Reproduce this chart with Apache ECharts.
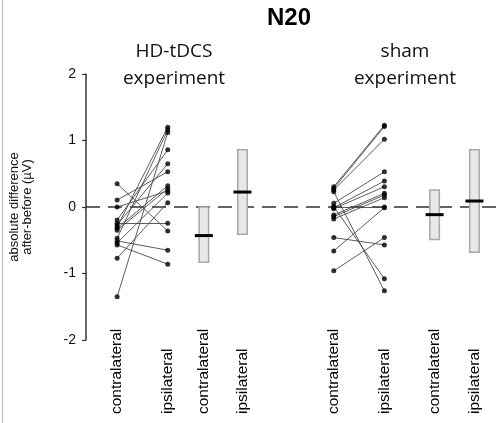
<!DOCTYPE html>
<html><head><meta charset="utf-8">
<script src="https://cdn.jsdelivr.net/npm/echarts@6/dist/echarts.min.js"></script>
<style>html,body{margin:0;padding:0;background:#fff}#c{width:501px;height:423px}</style>
</head><body><div id="c"></div>
<script>
// category positions along the x axis and their labels
const catPos = [0.75, 1.97, 2.84, 3.77, 5.97, 7.19, 8.4, 9.36];
const catLabels = ['contralateral', 'ipsilateral', 'contralateral', 'ipsilateral',
                   'contralateral', 'ipsilateral', 'contralateral', 'ipsilateral'];
const yTicks = [-2, -1, 0, 1, 2];

// individual subjects: HD-tDCS experiment (contralateral -> ipsilateral)
const hdContra = [0.35, 0.105, 0.0, -0.195, -0.245, -0.27, -0.30, -0.32, -0.35, -0.47, -0.51, -0.54, -0.57, -0.77, -1.35];
const hdIpsi   = [-0.36, 0.53, 0.24, 0.86, -0.245, 0.65, 1.20, 0.32, 0.275, 1.16, -0.65, 0.21, -0.86, 0.065, 1.12];

// individual subjects: sham experiment
const shamContra = [0.305, 0.28, 0.255, 0.23, 0.055, 0.005, 0.0, -0.01, -0.025, -0.12, -0.145, -0.18, -0.46, -0.66, -0.96];
const shamIpsi   = [1.23, 1.21, 1.02, -1.26, 0.53, -1.08, 0.0, 0.39, 0.305, 0.205, 0.18, 0.14, -0.57, -0.01, -0.46];

// summary boxes (range) with mean bar
const boxLow  = [-0.83, -0.41, -0.49, -0.68];
const boxHigh = [0.0, 0.86, 0.255, 0.86];
const boxMean = [-0.43, 0.225, -0.115, 0.09];

const boxCats = [2, 3, 6, 7];
const boxData = boxCats.map((c, i) => [catPos[c], boxLow[i], boxHigh[i], boxMean[i]]);

const pairLines = [];
const points = [];
function addPairs(contra, ipsi, cA, cB) {
  contra.forEach((v, i) => {
    pairLines.push({ coords: [[catPos[cA], v], [catPos[cB], ipsi[i]]] });
    points.push([catPos[cA], v]);
    points.push([catPos[cB], ipsi[i]]);
  });
}
addPairs(hdContra, hdIpsi, 0, 1);
addPairs(shamContra, shamIpsi, 4, 5);

const chart = echarts.init(document.getElementById('c'), null, { renderer: 'canvas' });
const font = 'Liberation Sans, Arial, sans-serif';

chart.setOption({
  animation: false,
  backgroundColor: '#fff',
  grid: { left: 79, right: 0, top: 74, bottom: 83 },
  xAxis: {
    type: 'value', min: 0, max: 10,
    axisLine: { show: false }, axisTick: { show: false }, splitLine: { show: false },
    axisLabel: {
      customValues: catPos,
      formatter: function (v) {
        const idx = catPos.findIndex(p => Math.abs(p - v) < 1e-6);
        return idx >= 0 ? catLabels[idx] : '';
      },
      rotate: 90, align: 'left', verticalAlign: 'middle', margin: 74,
      fontSize: 15.5, fontFamily: font, color: '#000'
    }
  },
  yAxis: {
    type: 'value', min: yTicks[0], max: yTicks[yTicks.length - 1], interval: 1,
    axisLine: { show: true, lineStyle: { color: '#333', width: 1.5 } },
    axisTick: { show: true, length: 4, lineStyle: { color: '#333', width: 1.2 } },
    axisLabel: { fontSize: 14, color: '#111', margin: 10, fontFamily: font },
    splitLine: { show: false },
    name: 'absolute difference\nafter-before (µV)',
    nameLocation: 'middle', nameGap: 52,
    nameTextStyle: { fontSize: 13, lineHeight: 13, fontFamily: font, color: '#111' }
  },
  graphic: [
    { type: 'line', shape: { x1: 2.5, y1: 0, x2: 2.5, y2: 423 }, style: { stroke: '#c8c8c8', lineWidth: 1.5 }, silent: true },
    { type: 'text', x: 289, y: 6, style: { text: 'N20', textAlign: 'center', textVerticalAlign: 'top', font: 'bold 24px Liberation Sans, Arial, sans-serif', fill: '#000' } },
    { type: 'text', x: 174, y: 38, style: { text: 'HD-tDCS\nexperiment', textAlign: 'center', textVerticalAlign: 'top', font: '19px Open Sans, sans-serif', lineHeight: 27, fill: '#111' } },
    { type: 'text', x: 405, y: 38, style: { text: 'sham\nexperiment', textAlign: 'center', textVerticalAlign: 'top', font: '19px Open Sans, sans-serif', lineHeight: 27, fill: '#111' } }
  ],
  series: [
    {
      type: 'line', data: [], z: 1,
      markLine: {
        silent: true, z: 1, symbol: ['none', 'none'],
        label: { show: false },
        lineStyle: { type: [14, 8], color: '#333', width: 1.5 },
        data: [{ yAxis: 0 }]
      }
    },
    {
      type: 'custom', z: 10, data: boxData,
      encode: { x: 0, y: [1, 2, 3] },
      renderItem: function (params, api) {
        const x = api.value(0);
        const pLo = api.coord([x, api.value(1)]);
        const pHi = api.coord([x, api.value(2)]);
        const pM = api.coord([x, api.value(3)]);
        const bw = 9.5, mw = 18;
        return {
          type: 'group', children: [
            { type: 'rect', shape: { x: pLo[0] - bw / 2, y: pHi[1], width: bw, height: pLo[1] - pHi[1] },
              style: { fill: '#e8e8e8', stroke: '#a8a8a8', lineWidth: 1.5 } },
            { type: 'rect', shape: { x: pM[0] - mw / 2, y: pM[1] - 1.5, width: mw, height: 3 },
              style: { fill: '#000' } }
          ]
        };
      }
    },
    {
      type: 'lines', coordinateSystem: 'cartesian2d', z: 11, data: pairLines,
      lineStyle: { color: '#4a4a4a', width: 0.9, opacity: 1 }, silent: true
    },
    {
      type: 'scatter', z: 12, data: points, symbolSize: 5,
      itemStyle: { color: '#000' }, silent: true
    }
  ]
});
</script></body></html>
